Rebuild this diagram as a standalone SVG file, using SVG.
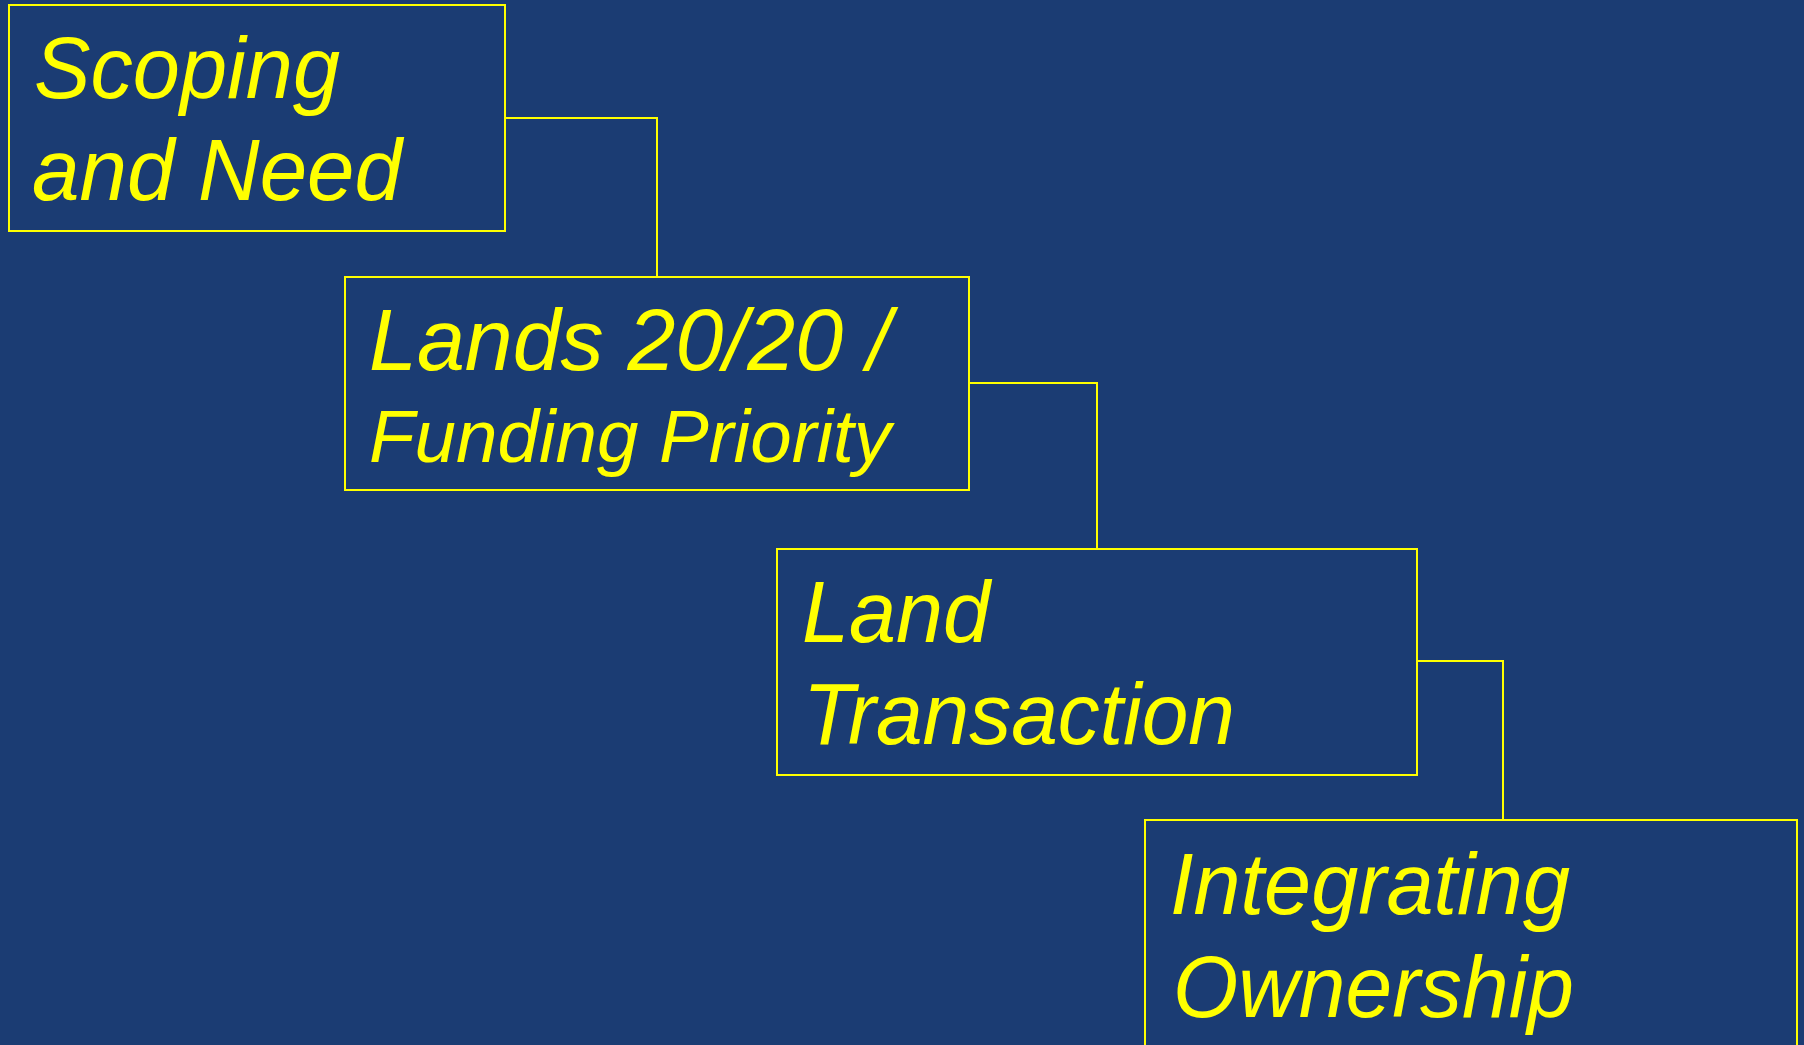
<svg xmlns="http://www.w3.org/2000/svg" width="1804" height="1045" viewBox="0 0 1804 1045">
<style>
.box{fill:none;stroke:#FFFF00;stroke-width:2}
.conn{fill:none;stroke:#FFFF00;stroke-width:2}
.t{fill:#FFFF00;font-family:"Liberation Sans",Arial,sans-serif;font-style:italic}
</style>
<rect x="0" y="0" width="1804" height="1045" fill="#1B3C73"/>
<g id="connectors">
<polyline class="conn" points="505,118 657,118 657,277"/>
<polyline class="conn" points="969,383 1097,383 1097,549"/>
<polyline class="conn" points="1417,661 1503,661 1503,820"/>
</g>
<g id="node1">
<rect class="box" x="9" y="5" width="496" height="226"/>
<text class="t" x="34" y="98" font-size="88" textLength="306" lengthAdjust="spacingAndGlyphs">Scoping</text>
<text class="t" x="32" y="200" font-size="88" textLength="370" lengthAdjust="spacingAndGlyphs">and Need</text>
</g>
<g id="node2">
<rect class="box" x="345" y="277" width="624" height="213"/>
<text class="t" x="369" y="370" font-size="87" textLength="522" lengthAdjust="spacingAndGlyphs">Lands 20/20 /</text>
<text class="t" x="369" y="462" font-size="75" textLength="522" lengthAdjust="spacingAndGlyphs">Funding Priority</text>
</g>
<g id="node3">
<rect class="box" x="777" y="549" width="640" height="226"/>
<text class="t" x="802" y="642" font-size="87" textLength="188" lengthAdjust="spacingAndGlyphs">Land</text>
<text class="t" x="803" y="744" font-size="87" textLength="432" lengthAdjust="spacingAndGlyphs">Transaction</text>
</g>
<g id="node4">
<rect class="box" x="1145" y="820" width="652" height="240"/>
<text class="t" x="1170" y="914" font-size="87" textLength="400" lengthAdjust="spacingAndGlyphs">Integrating</text>
<text class="t" x="1173" y="1017" font-size="87" textLength="401" lengthAdjust="spacingAndGlyphs">Ownership</text>
</g>
</svg>
